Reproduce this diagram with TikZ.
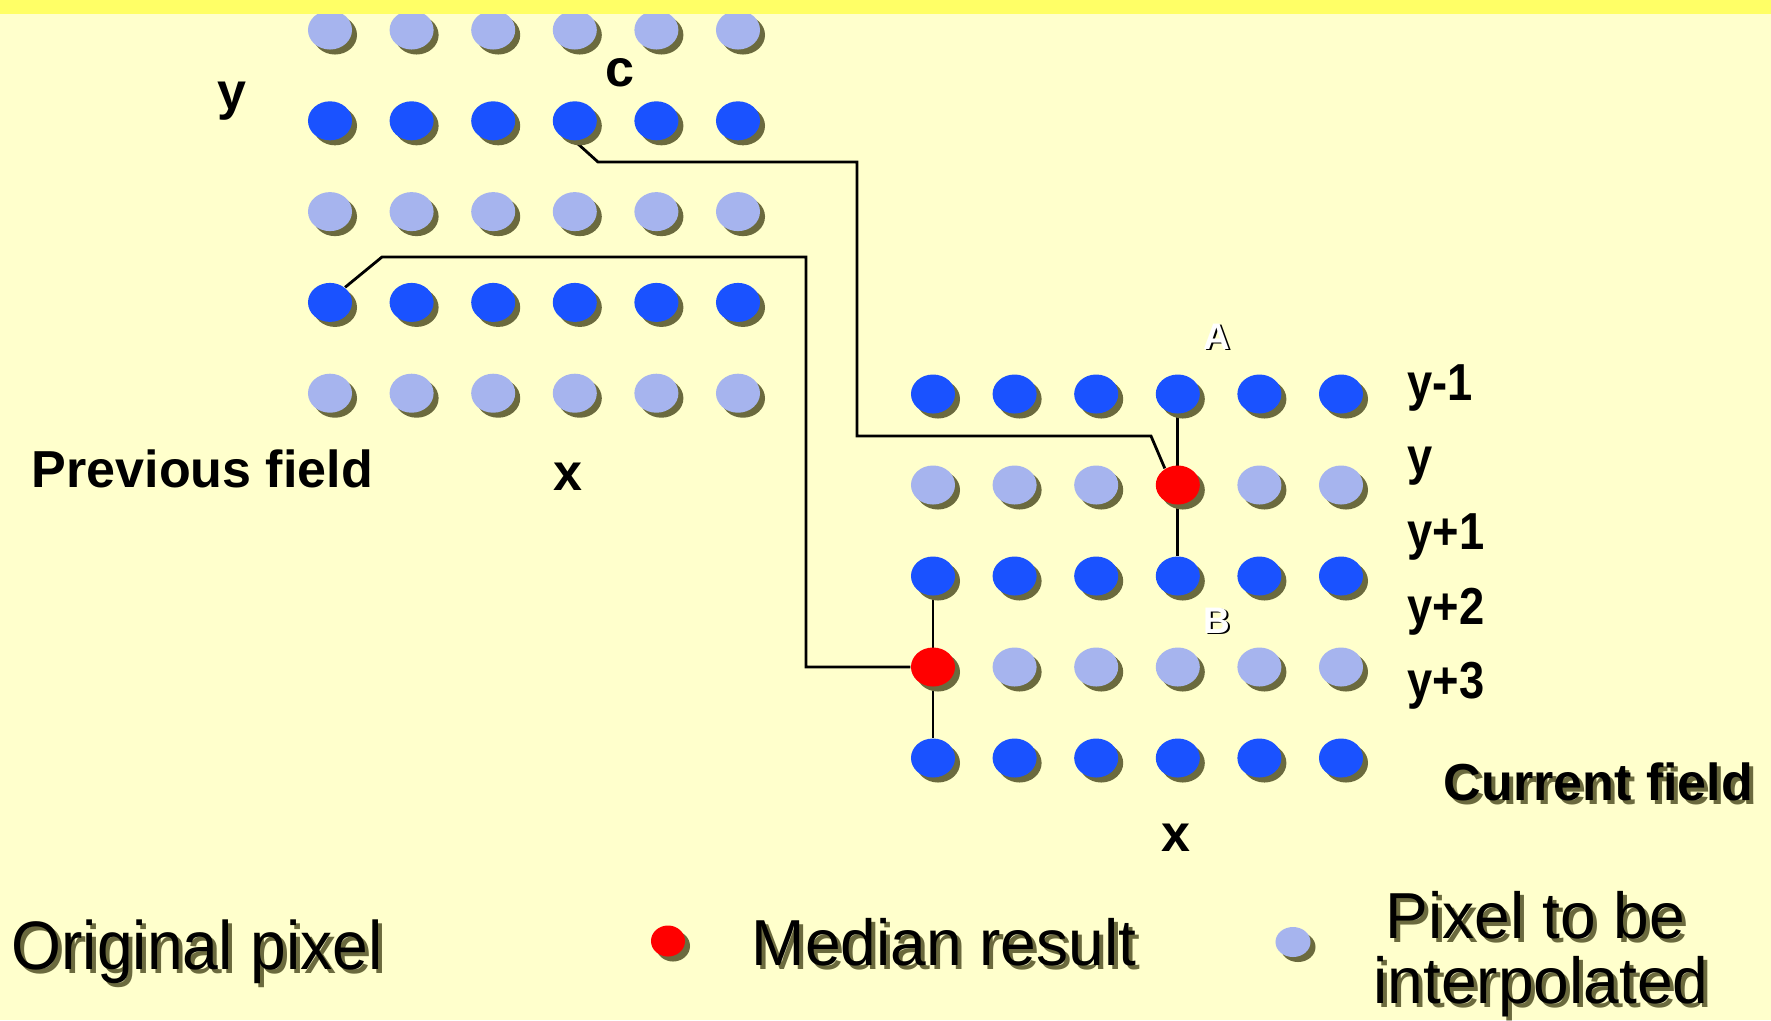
\documentclass[tikz,border=0pt]{standalone}
\usepackage{fontspec}
\setmainfont{Liberation Sans}
\usetikzlibrary{shapes.geometric,shadows,backgrounds}

\definecolor{paper}{HTML}{FFFFCC}
\definecolor{band}{HTML}{FFFF66}
\definecolor{origblue}{HTML}{1A52FF}
\definecolor{interpblue}{HTML}{A6B4EE}
\definecolor{medianred}{HTML}{FF0000}
\definecolor{dotshade}{HTML}{6B6A3E}

\tikzset{
  px/.style={ellipse, inner sep=0pt, minimum width=0.44cm, minimum height=0.39cm,
    drop shadow={shadow xshift=0.05cm, shadow yshift=-0.05cm, fill=dotshade, opacity=1}},
  origpx/.style={px, fill=origblue},
  interppx/.style={px, fill=interpblue},
  medianpx/.style={px, fill=medianred},
  lbl/.style={inner sep=0pt, font=\fontsize{14.8}{17}\selectfont\bfseries},
  rowlbl/.style={lbl, anchor=base west, xscale=0.87, transform shape},
  keytext/.style={inner sep=0pt, anchor=base west, xscale=0.985, transform shape,
    font=\fontsize{18.5}{22}\selectfont},
  tag/.style={inner sep=0pt, anchor=base, font=\fontsize{10.5}{12}\selectfont\bfseries},
  wire/.style={line width=0.8pt},
}

\begin{document}
\begin{tikzpicture}[x=0.01cm, y=-0.01cm]
  \useasboundingbox (0,0) rectangle (1771,1020);
  \begin{scope}[on background layer]
    \fill[paper] (0,0) rectangle (1771,1020);
  \end{scope}

  % previous field
  \foreach \r/\kind in {1/interppx,2/origpx,3/interppx,4/origpx,5/interppx}
    \foreach \c in {1,...,6}
      \node[\kind] (p-\r-\c) at ({330+81.6*(\c-1)},{30+90.8*(\r-1)}) {};

  % current field, with the two median results
  \foreach \r/\kind/\mc in {1/origpx/0,2/interppx/4,3/origpx/0,4/interppx/1,5/origpx/0}
    \foreach \c in {1,...,6}{
      \ifnum\c=\mc \def\k{medianpx}\else \edef\k{\kind}\fi
      \node[\k] (c-\r-\c) at ({933+81.6*(\c-1)},{394+91*(\r-1)}) {};
    }

  \begin{scope}[on background layer]
    \draw[wire] (p-2-4.south) -- (598,162) -- (857,162) -- (857,436) -- (1151,436) -- (c-2-4.128);
    \draw[wire] (p-4-1.45) -- (382,257) -- (806,257) |- (c-4-1.west);
    \draw[wire] (c-1-4) -- (c-3-4);
    \draw[wire] (c-3-1) -- (c-5-1);
  \end{scope}

  \fill[band] (0,0) rectangle (1771,14);

  % labels
  \node[lbl, anchor=base] (prev-y) at (232,109) {y};
  \node[lbl, anchor=base] (prev-c) at (620,86) {c};
  \node[lbl, anchor=base] (prev-x) at (568,490) {x};
  \node[lbl, anchor=base west] (prev-name) at (31,487) {Previous field};

  \node[rowlbl] (row-a) at (1407,400) {y-1};
  \node[rowlbl] (row-b) at (1407,474) {y};
  \node[rowlbl] (row-c) at (1407,549) {y+1};
  \node[rowlbl] (row-d) at (1407,624) {y+2};
  \node[rowlbl] (row-e) at (1407,698) {y+3};
  \node[lbl, anchor=base] (cur-x) at (1176,851) {x};
  \node[lbl, anchor=base west, text=dotshade] (cur-name-sh) at (1447,804) {Current field};
  \node[lbl, anchor=base west] (cur-name) at (1443,800) {Current field};

  \node[tag] (tag-a-sh) at (1219,350.5) {A};
  \node[tag, text=white] (tag-a) at (1217,349) {A};
  \node[tag] (tag-b-sh) at (1219,634.5) {B};
  \node[tag, text=white] (tag-b) at (1217,633) {B};

  % key
  \node[keytext, xscale=0.95, text=dotshade, font=\fontsize{19.5}{23}\selectfont] (key-orig-sh) at (15,973) {Original pixel};
  \node[keytext, xscale=0.95, font=\fontsize{19.5}{23}\selectfont] (key-orig) at (11,969) {Original pixel};

  \node[px, fill=medianred, minimum width=0.34cm, minimum height=0.31cm] (key-median) at (668,941) {};
  \node[keytext, text=dotshade] (key-median-sh) at (755,969) {Median result};
  \node[keytext] (key-median-txt) at (751,965) {Median result};

  \node[px, fill=interpblue, minimum width=0.35cm, minimum height=0.30cm] (key-interp) at (1293,942) {};
  \node[keytext, text=dotshade] (key-interp-sh1) at (1389,942) {Pixel to be};
  \node[keytext] (key-interp-txt1) at (1385,938) {Pixel to be};
  \node[keytext, text=dotshade] (key-interp-sh2) at (1377,1007) {interpolated};
  \node[keytext] (key-interp-txt2) at (1373,1003) {interpolated};
\end{tikzpicture}
\end{document}
